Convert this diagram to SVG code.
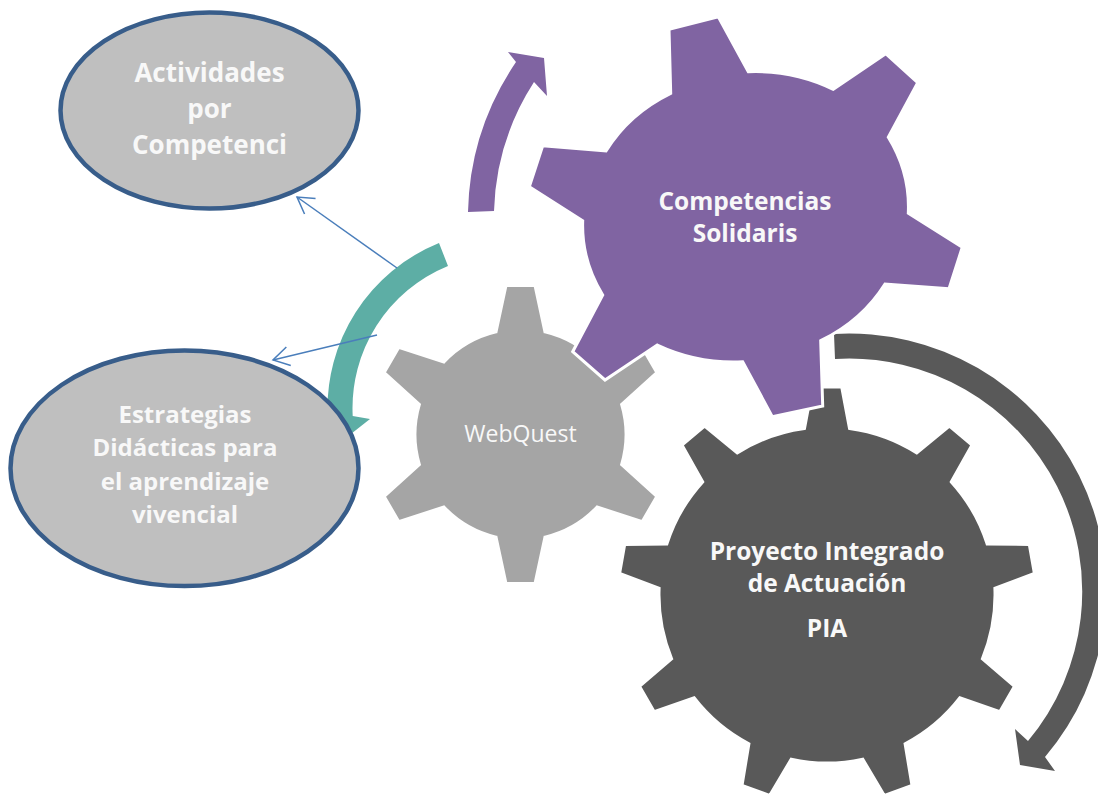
<svg xmlns="http://www.w3.org/2000/svg" width="1098" height="794" viewBox="0 0 1098 794">
<defs>
<style>
.bub{fill:#BFBFBF;stroke:#385D8A;stroke-width:4.5}
.gear{stroke:#FFFFFF;stroke-width:3;stroke-linejoin:miter}
.lbl{font-family:"Open Sans","Liberation Sans",sans-serif;font-weight:bold;fill:#F8F8F8;text-anchor:middle}
.lblr{font-family:"Open Sans","Liberation Sans",sans-serif;font-weight:normal;fill:#F8F8F8;text-anchor:middle}
.conn{stroke:#4A7EBB;stroke-width:1.5;fill:none}
</style>
<marker id="open" markerUnits="userSpaceOnUse" markerWidth="40" markerHeight="40" viewBox="-20 -20 40 40" refX="0" refY="0" orient="auto" overflow="visible">
<path d="M -16,-9.5 L 0,0 L -16,9.5" fill="none" stroke="#4A7EBB" stroke-width="1.5"/>
</marker>
</defs>
<rect width="1098" height="794" fill="#FFFFFF"/>

<g id="cycle-arrows">
<path id="arrow-teal" d="M 439,243 A 178.5 178.5 0 0 0 327.7,417.3 L 312,422 L 342,441 L 370,419 L 352.7,416 A 153.5 153.5 0 0 1 448,266 Z" fill="#5DAEA5"/>
<path id="arrow-purple" d="M 468,212 A 277 277 0 0 1 516,62 L 508,52 L 544,58 L 547,96 L 534,82 A 251 251 0 0 0 494,211 Z" fill="#8064A2"/>
<path id="arrow-dark" d="M 834,334 A 257 257 0 0 1 1045,757 L 1055,771 L 1020,765 L 1015,729 L 1028,741 A 233 233 0 0 0 835,359 Z" fill="#595959"/>
</g>

<g id="node-actividades">
<ellipse class="bub" cx="209.5" cy="110.5" rx="149" ry="98"/>
<text class="lbl" font-size="26" x="209.5" y="82">Actividades</text>
<text class="lbl" font-size="26" x="209.5" y="118">por</text>
<text class="lbl" font-size="26" x="209.5" y="154">Competenci</text>
</g>

<g id="node-estrategias">
<ellipse class="bub" cx="184.5" cy="468.3" rx="174" ry="117.8"/>
<text class="lbl" font-size="24" x="185" y="423">Estrategias</text>
<text class="lbl" font-size="24" x="185" y="456">Didácticas para</text>
<text class="lbl" font-size="24" x="185" y="489.5">el aprendizaje</text>
<text class="lbl" font-size="24" x="185" y="522.5">vivencial</text>
</g>

<g id="node-pia">
<path class="gear" fill="#595959" d="M 804.5,428.5 L 812.3,387 L 841.7,387 L 849.5,428.5 A 168 168 0 0 1 916.8,453 L 949.4,426.2 L 972,445.1 L 951.3,481.9 A 168 168 0 0 1 987.1,543.9 L 1029.3,544.4 L 1034.4,573.4 L 994.9,588.3 A 168 168 0 0 1 982.4,658.8 L 1014.5,686.3 L 999.8,711.7 L 959.9,697.7 A 168 168 0 0 1 905.1,743.8 L 912,785.4 L 884.3,795.5 L 862.8,759.2 A 168 168 0 0 1 791.2,759.2 L 769.7,795.5 L 742,785.4 L 748.9,743.8 A 168 168 0 0 1 694.1,697.7 L 654.2,711.7 L 639.5,686.3 L 671.6,658.8 A 168 168 0 0 1 659.1,588.3 L 619.6,573.4 L 624.7,544.4 L 666.9,543.9 A 168 168 0 0 1 702.7,481.9 L 682,445.1 L 704.6,426.2 L 737.2,453 A 168 168 0 0 1 804.5,428.5 Z"/>
<text class="lbl" font-size="24.5" x="827" y="560">Proyecto Integrado</text>
<text class="lbl" font-size="24.5" x="827" y="592">de Actuación</text>
<text class="lbl" font-size="24.5" x="827" y="637">PIA</text>
</g>

<g id="node-webquest">
<path class="gear" fill="#A5A5A5" d="M 496,331.9 L 506,285.5 L 535,285.5 L 545,331.9 A 105.5 105.5 0 0 1 597.1,362 L 642.3,347.4 L 656.8,372.6 L 621.6,404.4 A 105.5 105.5 0 0 1 621.6,464.6 L 656.8,496.4 L 642.3,521.6 L 597.1,507 A 105.5 105.5 0 0 1 545,537.1 L 535,583.5 L 506,583.5 L 496,537.1 A 105.5 105.5 0 0 1 443.9,507 L 398.7,521.6 L 384.2,496.4 L 419.4,464.6 A 105.5 105.5 0 0 1 419.4,404.4 L 384.2,372.6 L 398.7,347.4 L 443.9,362 A 105.5 105.5 0 0 1 496,331.9 Z"/>
<text class="lblr" font-size="23" x="520.5" y="442">WebQuest</text>
</g>

<g id="node-competencias">
<path class="gear" fill="#8064A2" d="M 670.7,93.3 L 669,29.3 L 718.3,16.7 L 748.3,71.7 A 163 145 0 0 1 833.3,89.3 L 885.7,53.7 L 917.7,82.7 L 888.3,137.3 A 163 145 0 0 1 908.3,213.3 L 962.3,247.3 L 949,288.7 L 885,284 A 163 145 0 0 1 820.7,340.7 L 822.7,406 L 772.3,416.7 L 742.7,361.7 A 163 145 0 0 1 657.3,345 L 605,380 L 572.7,351.7 L 602.7,295 A 163 145 0 0 1 582.7,220.7 L 529.3,186.7 L 542.7,145.7 L 606,151 A 163 145 0 0 1 670.7,93.3 Z"/>
<text class="lbl" font-size="24.5" x="745" y="210">Competencias</text>
<text class="lbl" font-size="24.5" x="745" y="242">Solidaris</text>
</g>

<g id="connectors">
<line class="conn" x1="397" y1="268" x2="297" y2="197" marker-end="url(#open)"/>
<line class="conn" x1="377" y1="335" x2="273" y2="360" marker-end="url(#open)"/>
</g>
</svg>
